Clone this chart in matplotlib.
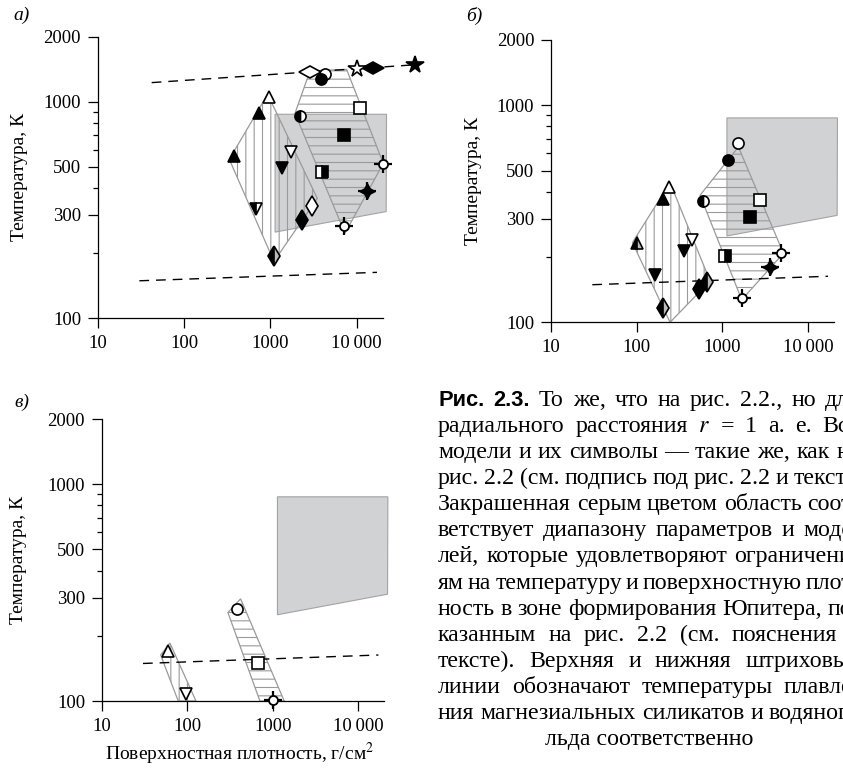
import numpy as np
import matplotlib
matplotlib.use('Agg')
import matplotlib.pyplot as plt
from matplotlib.markers import MarkerStyle
from matplotlib.transforms import Affine2D
from matplotlib.ticker import FixedLocator, FixedFormatter, NullFormatter

plt.rcParams['font.family'] = ['Liberation Serif', 'DejaVu Serif']
plt.rcParams['mathtext.fontset'] = 'stix'
plt.rcParams['hatch.linewidth'] = 0.8

# ---- data ----
# melting lines (silicates, water ice)
hot_line_x = [42.2, 54200]
hot_line_y = [1225, 1486]
ice_line_x = [30.4, 17200]
ice_line_y = [149, 163]

# grey region (Jupiter formation constraints)
gray_x = [1135, 22200, 22000, 1135]
gray_y = [875, 875, 311, 250]

# panel a
a_vert_x = [335, 931, 3500, 1102]
a_vert_y = [542, 1082, 358, 183]
a_horz_x = [2880, 7660, 20370, 7330, 1932]
a_horz_y = [1387, 1410, 519, 247, 883]
a_x = [2880, 15600, 10000, 47400, 4300, 3860, 2210, 973, 746, 380,
       1733, 1352, 676, 10940, 7200, 3940, 20000, 13060, 7130, 3060, 2350, 1094]
a_y = [1375, 1426, 1410, 1475, 1343, 1273, 861, 1054, 883, 561,
       587, 492, 318, 931, 702, 475, 514, 388, 267, 331, 284, 194]
a_kind = ['hdiam_open', 'hdiam_fill', 'star_open', 'star_fill', 'circ_open',
          'circ_fill', 'circ_half', 'tri_up_open', 'tri_up_fill', 'tri_up_fill',
          'tri_down_open', 'tri_down_fill', 'tri_down_half', 'sq_open', 'sq_fill',
          'sq_half', 'cross_open', 'cross_fill', 'cross_open', 'diam_open',
          'diam_fill', 'diam_half']

# panel b
b_vert_x = [89.3, 246, 721, 246]
b_vert_y = [233, 440, 155, 100]
b_horz_x = [1545, 5190, 1691, 551]
b_horz_y = [643, 208, 127, 385]
b_x = [1545, 1161, 603, 2775, 2119, 1081, 4877, 3623, 1691,
       241.6, 205.6, 100, 440, 358, 164, 659, 537, 202]
b_y = [667, 558, 361, 368, 306, 202, 209, 179, 130,
       421, 372, 233, 239, 213, 165, 154, 142, 116]
b_kind = ['circ_open', 'circ_fill', 'circ_half', 'sq_open', 'sq_fill', 'sq_half',
          'cross_open', 'cross_fill', 'cross_open', 'tri_up_open', 'tri_up_fill',
          'tri_up_half', 'tri_down_open', 'tri_down_fill', 'tri_down_fill',
          'diam_half', 'diam_fill', 'diam_half']

# panel c
c_vert_x = [48.9, 62.8, 126.5, 78.5]
c_vert_y = [163, 185, 100, 100]
c_horz_x = [299, 421, 1361, 708]
c_horz_y = [256, 296, 100, 100]
c_x = [60.1, 95.9, 378, 678, 1014]
c_y = [170, 108, 267, 150, 101]
c_kind = ['tri_up_open', 'tri_down_open', 'circ_open', 'sq_open', 'cross_open']

y_major = [100, 300, 500, 1000, 2000]
y_minor = [200, 400, 600, 700, 800, 900]
x_major = [10, 100, 1000, 10000]
x_labels = ['10', '100', '1000', '10\u2009000']

caption = [
    'То же, что на рис. 2.2., но для',
    'радиального расстояния $r$ = 1 а. е. Все',
    'модели и их символы — такие же, как на',
    'рис. 2.2 (см. подпись под рис. 2.2 и текст).',
    'Закрашенная серым цветом область соот-',
    'ветствует диапазону параметров и моде-',
    'лей, которые удовлетворяют ограничени-',
    'ям на температуру и поверхностную плот-',
    'ность в зоне формирования Юпитера, по-',
    'казанным на рис. 2.2 (см. пояснения в',
    'тексте). Верхняя и нижняя штриховые',
    'линии обозначают температуры плавле-',
    'ния магнезиальных силикатов и водяного',
    'льда соответственно',
]

# ---- marker styles ----
hd = MarkerStyle('d', transform=Affine2D().rotate_deg(90))
K = 'black'
styles = {
    'tri_up_open':   dict(marker='^', ms=8, mfc='white', mec=K),
    'tri_up_fill':   dict(marker='^', ms=8, mfc=K, mec=K),
    'tri_up_half':   dict(marker='^', ms=8, mfc=K, mec=K, fillstyle='left', mfcalt='#bbbbbb'),
    'tri_down_open': dict(marker='v', ms=8, mfc='white', mec=K),
    'tri_down_fill': dict(marker='v', ms=8, mfc=K, mec=K),
    'tri_down_half': dict(marker='v', ms=8, mfc=K, mec=K, fillstyle='left', mfcalt='white'),
    'diam_open':     dict(marker='d', ms=10, mfc='white', mec=K),
    'diam_fill':     dict(marker='d', ms=10, mfc=K, mec=K),
    'diam_half':     dict(marker='d', ms=10, mfc=K, mec=K, fillstyle='left', mfcalt='#bbbbbb'),
    'hdiam_open':    dict(marker=hd, ms=11, mfc='white', mec=K),
    'hdiam_fill':    dict(marker=hd, ms=11, mfc=K, mec=K),
    'circ_open':     dict(marker='o', ms=8, mfc='white', mec=K),
    'circ_fill':     dict(marker='o', ms=8, mfc=K, mec=K),
    'circ_half':     dict(marker='o', ms=8, mfc=K, mec=K, fillstyle='left', mfcalt='white'),
    'sq_open':       dict(marker='s', ms=8, mfc='white', mec=K),
    'sq_fill':       dict(marker='s', ms=8, mfc=K, mec=K),
    'sq_half':       dict(marker='s', ms=8, mfc=K, mec=K, fillstyle='right', mfcalt='white'),
    'star_open':     dict(marker='*', ms=13, mfc='white', mec=K),
    'star_fill':     dict(marker='*', ms=13, mfc=K, mec=K),
}


def draw_points(ax, xs, ys, kinds):
    for x, y, k in zip(xs, ys, kinds):
        if k.startswith('cross'):
            ax.plot(x, y, marker='+', ms=13, mew=1.6, color=K, zorder=5, clip_on=False)
            if k == 'cross_fill':
                ax.plot(x, y, marker=(4, 1, 0), ms=11, mfc=K, mec=K, zorder=6, clip_on=False)
            else:
                ax.plot(x, y, marker='o', ms=6.5, mfc='white', mec=K, mew=1.3, zorder=6, clip_on=False)
        else:
            ax.plot(x, y, mew=1.2, zorder=6, clip_on=False, **styles[k])


def setup(ax, ylabel_x, xlabel=False):
    ax.set_xscale('log')
    ax.set_yscale('log')
    ax.set_xlim(10, 20000)
    ax.set_ylim(100, 2000)
    for s in ['top', 'right']:
        ax.spines[s].set_visible(False)
    for s in ['left', 'bottom']:
        ax.spines[s].set_linewidth(0.9)
    ax.xaxis.set_major_locator(FixedLocator(x_major))
    ax.xaxis.set_major_formatter(FixedFormatter(x_labels))
    ax.xaxis.set_minor_locator(FixedLocator([]))
    ax.yaxis.set_major_locator(FixedLocator(y_major))
    ax.yaxis.set_major_formatter(FixedFormatter([str(v) for v in y_major]))
    ax.yaxis.set_minor_locator(FixedLocator(y_minor))
    ax.yaxis.set_minor_formatter(NullFormatter())
    ax.tick_params(which='major', direction='out', length=7, width=0.9, labelsize=13.5, pad=5)
    ax.tick_params(which='minor', direction='out', length=3.5, width=0.9)
    ax.set_ylabel('Температура, К', fontsize=14)
    ax.yaxis.set_label_coords(ylabel_x, 0.5)
    if xlabel:
        ax.set_xlabel('Поверхностная плотность, г/см$^{2}$', fontsize=14)
        ax.xaxis.set_label_coords(0.49, -0.14)
    ax.set_facecolor('none')


def draw_gray(ax):
    ax.fill(gray_x, gray_y, facecolor='#d1d2d4', edgecolor='#a3a3a3', lw=0.8, zorder=1, clip_on=False)


def draw_hatched(ax, xs, ys, hatch):
    ax.fill(xs, ys, facecolor='none', edgecolor='#9a9a9a', lw=0.9, hatch=hatch, zorder=2, clip_on=False)


W, H = 843, 770
fig = plt.figure(figsize=(W / 100, H / 100), dpi=100)

# axes placed from pixel measurements
ax_a = fig.add_axes([97.7 / W, 1 - 318.3 / H, 284.9 / W, 281.8 / H])
ax_b = fig.add_axes([551 / W, 1 - 322.3 / H, 282.6 / W, 282.3 / H])
ax_c = fig.add_axes([101.7 / W, 1 - 701 / H, 282.3 / W, 282 / H])

# panel a
setup(ax_a, -0.245)
draw_gray(ax_a)
draw_hatched(ax_a, a_vert_x, a_vert_y, '||')
draw_hatched(ax_a, a_horz_x, a_horz_y, '--')
ax_a.plot(hot_line_x, hot_line_y, color=K, lw=1.0, dashes=(7, 5), zorder=3, clip_on=False)
ax_a.plot(ice_line_x, ice_line_y, color=K, lw=1.0, dashes=(7, 5), zorder=3, clip_on=False)
draw_points(ax_a, a_x, a_y, a_kind)

# panel b
setup(ax_b, -0.245)
draw_gray(ax_b)
draw_hatched(ax_b, b_vert_x, b_vert_y, '||')
draw_hatched(ax_b, b_horz_x, b_horz_y, '--')
ax_b.plot(ice_line_x, ice_line_y, color=K, lw=1.0, dashes=(7, 5), zorder=3, clip_on=False)
draw_points(ax_b, b_x, b_y, b_kind)

# panel c
setup(ax_c, -0.265, xlabel=True)
draw_gray(ax_c)
draw_hatched(ax_c, c_vert_x, c_vert_y, '||')
draw_hatched(ax_c, c_horz_x, c_horz_y, '--')
ax_c.plot(ice_line_x, ice_line_y, color=K, lw=1.0, dashes=(7, 5), zorder=3, clip_on=False)
draw_points(ax_c, c_x, c_y, c_kind)

# panel letters
fig.text(22 / W, 1 - 15 / H, 'а)', fontsize=14, style='italic', ha='center', va='center')
fig.text(474 / W, 1 - 16 / H, 'б)', fontsize=14, style='italic', ha='center', va='center')
fig.text(22 / W, 1 - 402 / H, 'в)', fontsize=14, style='italic', ha='center', va='center')

# caption, justified word by word (the column runs past the right edge of the image)
renderer = fig.canvas.get_renderer()
L, R = 438, 860
base0, step = 406, 26.08
bold_fam = ['Liberation Sans Narrow', 'Liberation Sans', 'DejaVu Sans']


def word_width(txt, fs, family=None, weight='normal'):
    t = fig.text(0, 0, txt, fontsize=fs, family=family, weight=weight)
    w = t.get_window_extent(renderer).width
    t.remove()
    return w


# size the serif so the (unstretched) 4th line reaches the image edge like in the scan
cap_fs = 14.0 * 405 / word_width('рис. 2.2 (см. подпись под рис. 2.2 и текс', 14.0)
bold_fs = cap_fs * 0.92

for i, line in enumerate(caption):
    yb = 1 - (base0 + i * step) / H
    if i == len(caption) - 1:
        # last line is centred in the column
        fig.text((L + R) / 2 / W, yb, line, fontsize=cap_fs, ha='center', va='baseline')
        continue
    words = [dict(t=w, fs=cap_fs, family=None, weight='normal') for w in line.split(' ')]
    if i == 0:
        words = [dict(t='Рис.', fs=bold_fs, family=bold_fam, weight='bold'),
                 dict(t='2.3.', fs=bold_fs, family=bold_fam, weight='bold')] + words
    for w in words:
        w['w'] = word_width(w['t'], w['fs'], w['family'], w['weight'])
    gap = (R - L - sum(w['w'] for w in words)) / (len(words) - 1)
    x = L
    for w in words:
        fig.text(x / W, yb, w['t'], fontsize=w['fs'], family=w['family'], weight=w['weight'],
                 ha='left', va='baseline')
        x += w['w'] + gap

fig.savefig('out.png', dpi=100)
